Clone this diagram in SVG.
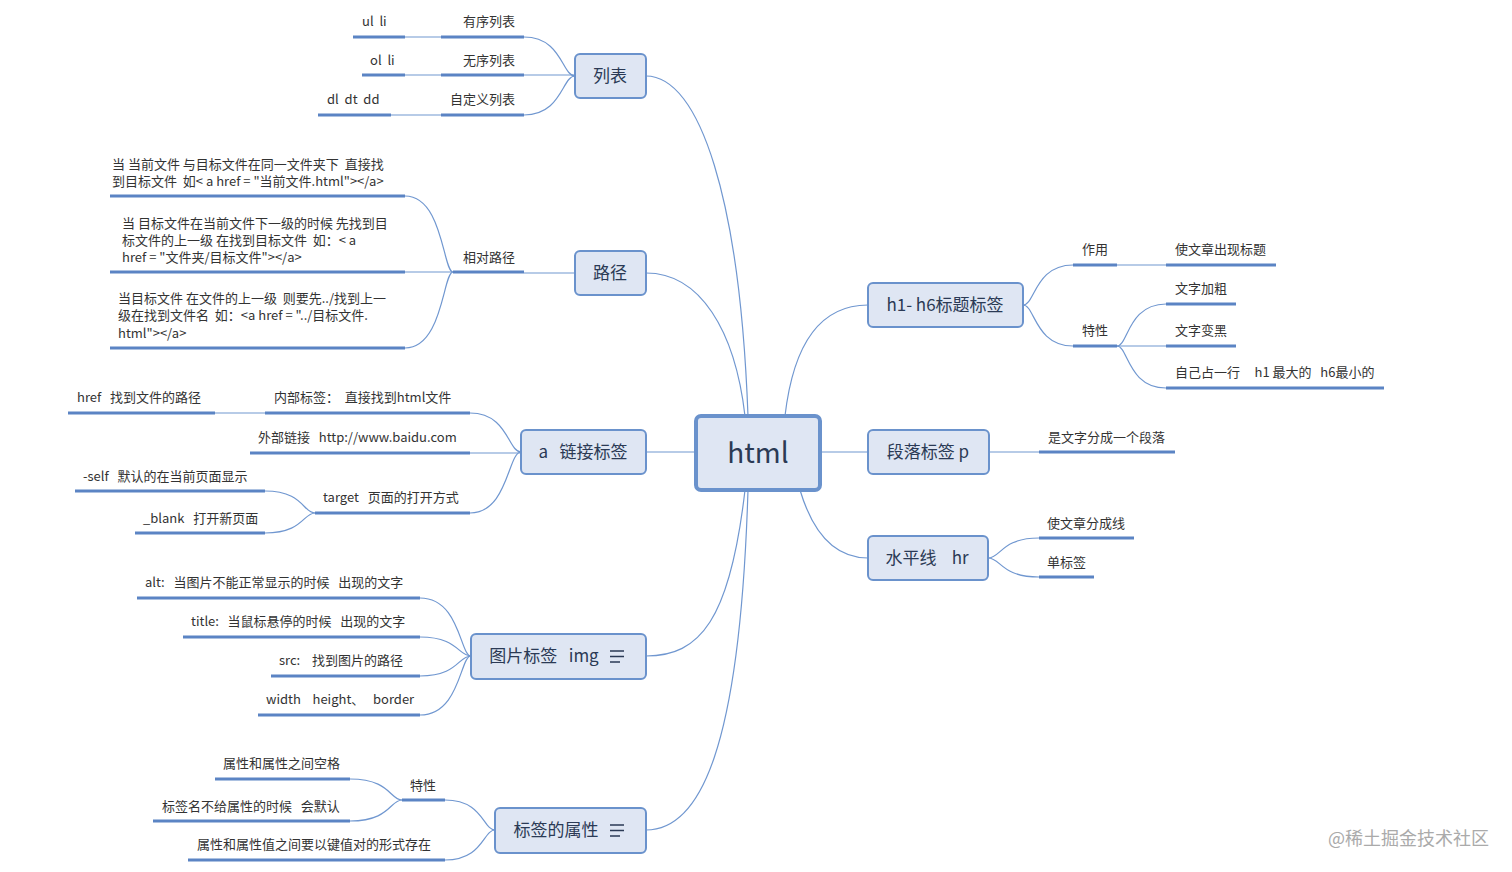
<svg xmlns="http://www.w3.org/2000/svg" width="1512" height="872" viewBox="0 0 1512 872">
<style>
text{white-space:pre}
.n rect{fill:#dfe6f3;stroke:#6a92cc;stroke-width:2}
.n text{font-family:"Noto Sans CJK SC","Noto Sans",sans-serif;font-size:17px;fill:#2b3a55;text-anchor:middle}
.c path{fill:none;stroke:#7097d0;stroke-width:1.2}
.u line{stroke:#5b84c4;stroke-width:3}
.t text{font-family:"Noto Sans CJK SC","Noto Sans",sans-serif;font-size:13px;fill:#333}
.ic{stroke:#2b3a55;stroke-width:1.6;fill:none}
</style>
<rect width="1512" height="872" fill="#fff"/>
<g class="c">
<path d="M748,416 C740,200 700,76 646,76"/>
<path d="M745,416 C735,330 700,273 646,273"/>
<path d="M696,452 H646"/>
<path d="M745,490 C730,620 700,656 646,656"/>
<path d="M748,490 C740,750 700,830 646,830"/>
<path d="M785,416 C795,330 830,305 868,305"/>
<path d="M820,452 H868"/>
<path d="M800,490 C815,540 840,558 868,558"/>
<path d="M524,37 C562,37 562,76 575,76"/>
<path d="M524,75 H575"/>
<path d="M524,115 C562,115 562,76 575,76"/>
<path d="M405,37 H441"/><path d="M405,75 H441"/><path d="M391,115 H441"/>
<path d="M524,273 H575"/>
<path d="M405,196 C443,196 443,272 453,272"/>
<path d="M405,272 H453"/>
<path d="M405,348 C443,348 443,272 453,272"/>
<path d="M470,413 C508,413 508,452 521,452"/>
<path d="M470,453 H521"/>
<path d="M470,513 C508,513 508,452 521,452"/>
<path d="M215,413 H265"/>
<path d="M265,491 C303,491 303,513 315,513"/>
<path d="M265,533 C303,533 303,513 315,513"/>
<path d="M420,598 C460,598 460,656 471,656"/>
<path d="M420,637 C458,637 458,656 471,656"/>
<path d="M420,676 C458,676 458,656 471,656"/>
<path d="M420,715 C460,715 460,656 471,656"/>
<path d="M445,800 C483,800 483,830 495,830"/>
<path d="M445,860 C483,860 483,830 495,830"/>
<path d="M350,779 C390,779 390,800 402,800"/>
<path d="M350,821 C390,821 390,800 402,800"/>
<path d="M1073,265 C1035,265 1035,305 1023,305"/>
<path d="M1073,346 C1035,346 1035,305 1023,305"/>
<path d="M1117,265 H1166"/>
<path d="M1166,304 C1128,304 1128,346 1117,346"/>
<path d="M1166,346 H1117"/>
<path d="M1166,388 C1128,388 1128,346 1117,346"/>
<path d="M989,452 H1039"/>
<path d="M1039,538 C1001,538 1001,558 988,558"/>
<path d="M1039,577 C1001,577 1001,558 988,558"/>
</g>
<g class="u">
<line x1="353" y1="37" x2="405" y2="37"/><line x1="441" y1="37" x2="524" y2="37"/>
<line x1="362" y1="75" x2="405" y2="75"/><line x1="441" y1="75" x2="524" y2="75"/>
<line x1="318" y1="115" x2="391" y2="115"/><line x1="441" y1="115" x2="524" y2="115"/>
<line x1="453" y1="272" x2="524" y2="272"/>
<line x1="110" y1="196" x2="405" y2="196"/><line x1="110" y1="272" x2="405" y2="272"/><line x1="110" y1="348" x2="405" y2="348"/>
<line x1="68" y1="413" x2="215" y2="413"/><line x1="265" y1="413" x2="470" y2="413"/>
<line x1="250" y1="453" x2="470" y2="453"/><line x1="315" y1="513" x2="470" y2="513"/>
<line x1="75" y1="491" x2="265" y2="491"/><line x1="135" y1="533" x2="265" y2="533"/>
<line x1="137" y1="598" x2="420" y2="598"/><line x1="183" y1="637" x2="420" y2="637"/>
<line x1="271" y1="676" x2="420" y2="676"/><line x1="258" y1="715" x2="420" y2="715"/>
<line x1="402" y1="800" x2="445" y2="800"/><line x1="188" y1="860" x2="445" y2="860"/>
<line x1="215" y1="779" x2="350" y2="779"/><line x1="153" y1="821" x2="350" y2="821"/>
<line x1="1073" y1="265" x2="1117" y2="265"/><line x1="1073" y1="346" x2="1117" y2="346"/>
<line x1="1166" y1="265" x2="1276" y2="265"/><line x1="1166" y1="304" x2="1236" y2="304"/>
<line x1="1166" y1="346" x2="1236" y2="346"/><line x1="1166" y1="388" x2="1384" y2="388"/>
<line x1="1039" y1="452" x2="1175" y2="452"/>
<line x1="1039" y1="538" x2="1134" y2="538"/><line x1="1039" y1="577" x2="1094" y2="577"/>
</g>
<g class="t">
<text x="362" y="26">ul  li</text><text x="463" y="26">有序列表</text>
<text x="370" y="65">ol  li</text><text x="463" y="65">无序列表</text>
<text x="327" y="104">dl  dt  dd</text><text x="450" y="104">自定义列表</text>
<text x="463" y="262">相对路径</text>
<text x="112" y="169">当 当前文件 与目标文件在同一文件夹下  直接找</text>
<text x="112" y="186">到目标文件  如&lt; a href = "当前文件.html"&gt;&lt;/a&gt;</text>
<text x="122" y="228">当 目标文件在当前文件下一级的时候 先找到目</text>
<text x="122" y="245">标文件的上一级 在找到目标文件  如：&lt; a</text>
<text x="122" y="262">href = "文件夹/目标文件"&gt;&lt;/a&gt;</text>
<text x="118" y="303">当目标文件 在文件的上一级  则要先../找到上一</text>
<text x="118" y="320">级在找到文件名  如：&lt;a href = "../目标文件.</text>
<text x="118" y="338">html"&gt;&lt;/a&gt;</text>
<text x="77" y="402">href   找到文件的路径</text>
<text x="274" y="402">内部标签：  直接找到html文件</text>
<text x="258" y="442">外部链接   http://www.baidu.com</text>
<text x="323" y="502">target   页面的打开方式</text>
<text x="83" y="481">-self   默认的在当前页面显示</text>
<text x="143" y="523">_blank   打开新页面</text>
<text x="145" y="587">alt:   当图片不能正常显示的时候   出现的文字</text>
<text x="191" y="626">title:   当鼠标悬停的时候   出现的文字</text>
<text x="279" y="665">src:    找到图片的路径</text>
<text x="266" y="704">width    height、   border</text>
<text x="410" y="790">特性</text>
<text x="197" y="849">属性和属性值之间要以键值对的形式存在</text>
<text x="223" y="768">属性和属性之间空格</text>
<text x="162" y="811">标签名不给属性的时候   会默认</text>
<text x="1082" y="254">作用</text><text x="1082" y="335">特性</text>
<text x="1175" y="254">使文章出现标题</text><text x="1175" y="293">文字加粗</text>
<text x="1175" y="335">文字变黑</text><text x="1175" y="377">自己占一行     h1 最大的   h6最小的</text>
<text x="1048" y="442">是文字分成一个段落</text>
<text x="1047" y="528">使文章分成线</text><text x="1047" y="567">单标签</text>
</g>
<g id="html" class="n"><rect x="696" y="416" width="124" height="74" rx="5" style="stroke-width:4"/><text x="758" y="463" style="font-size:28px">html</text></g>
<g id="list" class="n"><rect x="575" y="54" width="71" height="44" rx="5"/><text x="610" y="82">列表</text></g>
<g id="path" class="n"><rect x="575" y="251" width="71" height="44" rx="5"/><text x="610" y="279">路径</text></g>
<g id="a" class="n"><rect x="521" y="430" width="125" height="44" rx="5"/><text x="583" y="458">a   链接标签</text></g>
<g id="img" class="n"><rect x="471" y="634" width="175" height="45" rx="5"/><text x="544" y="662">图片标签   img</text><path class="ic" d="M610,651 h14 M610,656.5 h14 M610,662 h10"/></g>
<g id="attr" class="n"><rect x="495" y="808" width="151" height="45" rx="5"/><text x="556" y="836">标签的属性</text><path class="ic" d="M610,825 h14 M610,830.5 h14 M610,836 h10"/></g>
<g id="h1" class="n"><rect x="868" y="283" width="155" height="44" rx="5"/><text x="945" y="311">h1- h6标题标签</text></g>
<g id="p" class="n"><rect x="868" y="430" width="121" height="44" rx="5"/><text x="928" y="458">段落标签 p</text></g>
<g id="hr" class="n"><rect x="868" y="536" width="120" height="44" rx="5"/><text x="927" y="564">水平线    hr</text></g>
<text x="1328" y="845" style="font-family:'Noto Sans CJK SC',sans-serif;font-size:18px;fill:#aaa">@稀土掘金技术社区</text>
</svg>
